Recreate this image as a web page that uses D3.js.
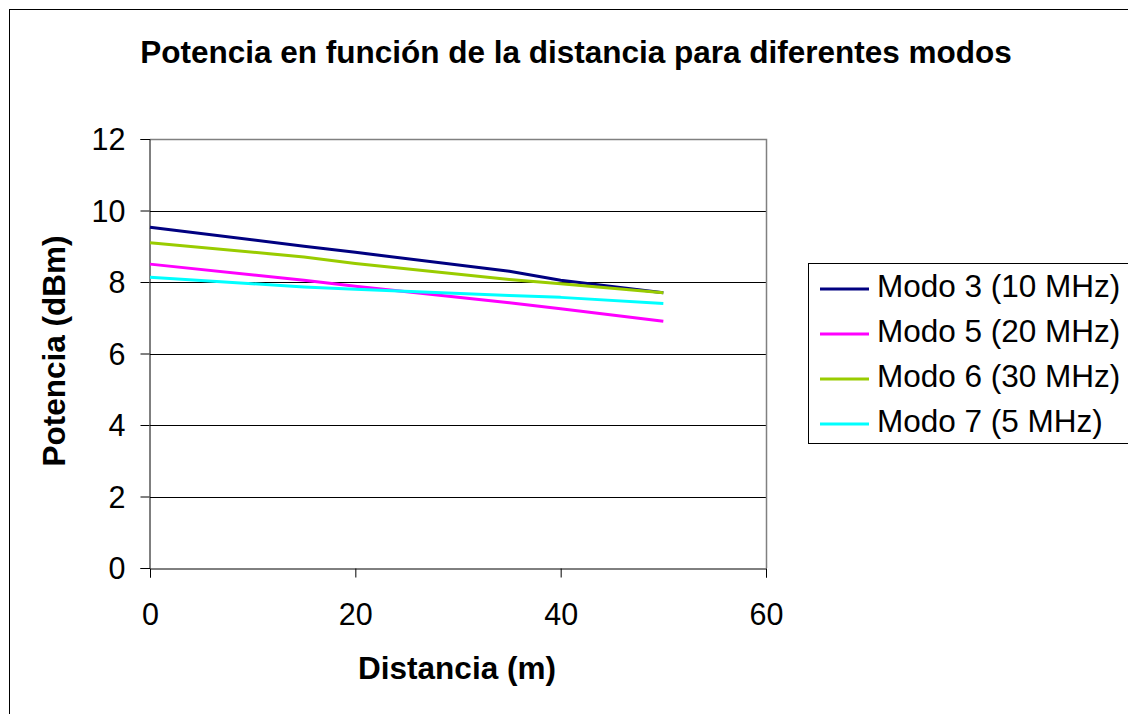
<!DOCTYPE html>
<html><head><meta charset="utf-8">
<script src="https://cdn.jsdelivr.net/npm/d3@7"></script>
<style>body{margin:0;background:#fff}svg{display:block}text{font-family:"Liberation Sans",Arial,sans-serif}</style>
</head><body>
<svg id="c" width="1128" height="714"></svg>
<script>
const distances = [0, 15, 20, 35, 40, 50];
const modo3 = [9.53, 9.0, 8.83, 8.3, 8.05, 7.7];
const modo5 = [8.5, 8.05, 7.88, 7.42, 7.25, 6.9];
const modo6 = [9.1, 8.7, 8.52, 8.07, 7.95, 7.7];
const modo7 = [8.13, 7.86, 7.8, 7.62, 7.57, 7.4];
const seriesNames = ["Modo 3 (10 MHz)", "Modo 5 (20 MHz)", "Modo 6 (30 MHz)", "Modo 7 (5 MHz)"];
const seriesColors = ["#000080", "#ff00ff", "#99cc00", "#00ffff"];
const xTicks = [0, 20, 40, 60];
const yTicks = [0, 2, 4, 6, 8, 10, 12];
const title = "Potencia en función de la distancia para diferentes modos";
const xTitle = "Distancia (m)";
const yTitle = "Potencia (dBm)";

const seriesValues = [modo3, modo5, modo6, modo7];
const svg = d3.select("#c");
const L = 150, R = 766, T = 139, B = 568;
const x = d3.scaleLinear().domain([0, 60]).range([L, R]);
const y = d3.scaleLinear().domain([0, 12]).range([B, T]);
const FONT = '"Liberation Sans",Arial,sans-serif';

svg.append("rect").attr("x", 9.5).attr("y", 9.5).attr("width", 1140).attr("height", 720)
  .attr("fill", "#fff").attr("stroke", "#000").attr("stroke-width", 1);

// gridlines
svg.append("g").selectAll("line").data(yTicks.filter(d => d > 0)).join("line")
  .attr("x1", L).attr("x2", R).attr("y1", d => Math.round(y(d)) + 0.5).attr("y2", d => Math.round(y(d)) + 0.5)
  .attr("stroke", "#000").attr("stroke-width", 1);

// plot border gray top/right
svg.append("path").attr("d", `M${L},${T + 0.5}H${R + 0.5}V${B}`).attr("fill", "none")
  .attr("stroke", "#808080").attr("stroke-width", 1.5);

// axes
const yAxis = svg.append("g").attr("transform", `translate(${L - 0.5},0)`)
  .call(d3.axisLeft(y).tickValues(yTicks).tickSize(9).tickPadding(15).tickFormat(d3.format("d")));
const xAxis = svg.append("g").attr("transform", `translate(0,${B + 0.5})`)
  .call(d3.axisBottom(x).tickValues(xTicks).tickSize(9).tickPadding(22).tickFormat(d3.format("d")));
[yAxis, xAxis].forEach(a => {
  a.select(".domain").attr("stroke", "#000");
  a.selectAll(".tick line").attr("stroke", "#000");
  a.selectAll("text").attr("font-size", 30.5).attr("fill", "#000").style("font-family", FONT);
});
yAxis.selectAll("text").attr("dy", "0.35em");
xAxis.selectAll("text").attr("dy", "0").attr("y", 56);

// lines
const line = d3.line().x((d, i) => x(distances[i])).y(d => y(d));
svg.append("g").selectAll("path").data(seriesValues).join("path")
  .attr("d", d => line(d)).attr("fill", "none")
  .attr("stroke", (d, i) => seriesColors[i]).attr("stroke-width", 3)
  .attr("stroke-linejoin", "round");

// titles
svg.append("text").attr("x", 576).attr("y", 63).attr("text-anchor", "middle")
  .attr("font-size", 31.5).attr("font-weight", "bold").text(title);
svg.append("text").attr("x", 457).attr("y", 679).attr("text-anchor", "middle")
  .attr("font-size", 31.5).attr("font-weight", "bold").text(xTitle);
svg.append("text").attr("transform", "translate(65,351) rotate(-90)").attr("text-anchor", "middle")
  .attr("font-size", 31.5).attr("font-weight", "bold").text(yTitle);

// legend
const lg = svg.append("g");
lg.append("rect").attr("x", 808.5).attr("y", 263.5).attr("width", 340).attr("height", 180)
  .attr("fill", "#fff").attr("stroke", "#000").attr("stroke-width", 1);
const items = lg.selectAll("g").data(seriesNames).join("g")
  .attr("transform", (d, i) => `translate(0,${289 + i * 45})`);
items.append("line").attr("x1", 820).attr("x2", 869).attr("stroke", (d, i) => seriesColors[i]).attr("stroke-width", 3);
items.append("text").attr("x", 877).attr("y", 8).attr("font-size", 31.5).text(d => d);
</script>
</body></html>
